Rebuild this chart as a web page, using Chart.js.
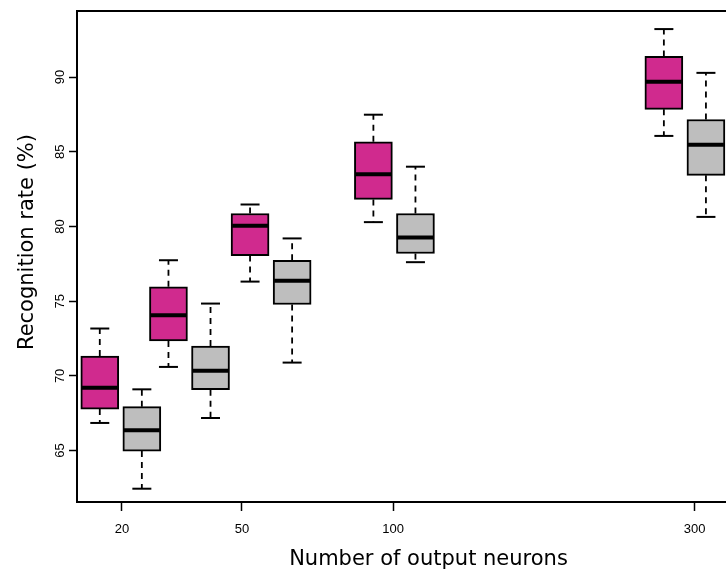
<!DOCTYPE html>
<html>
<head>
<meta charset="utf-8">
<script src="https://cdn.jsdelivr.net/npm/chart.js@4/dist/chart.umd.min.js"></script>
<style>
  html, body { margin: 0; padding: 0; background: #fff; overflow: hidden; }
  #wrap { width: 780px; height: 571px; }
</style>
</head>
<body>
<div id="wrap"><canvas id="boxChart" width="780" height="571"></canvas></div>
<script>
// --- data ---
// x positions of the five groups (axis units), ticks and their labels
const groupPos = [6.75, 17.33, 29.9, 48.9, 93.65];
const pairOffset = 3.24;
const tickPos = [6.93, 25.4, 48.7, 95.16];
const tickLabels = ['20', '50', '100', '300'];
const yTicks = [65, 70, 75, 80, 85, 90];

// magenta boxes
const pinkMin = [66.85, 70.60, 76.31, 80.29, 86.06];
const pinkQ1  = [67.78, 72.34, 78.05, 81.81, 87.84];
const pinkMed = [69.21, 74.06, 80.04, 83.50, 89.69];
const pinkQ3  = [71.33, 75.96, 80.87, 85.67, 91.38];
const pinkMax = [73.17, 77.74, 81.47, 87.48, 93.21];

// grey boxes
const greyMin = [62.45, 67.18, 70.89, 77.61, 80.64];
const greyQ1  = [64.97, 69.08, 74.78, 78.19, 83.42];
const greyMed = [66.36, 70.35, 76.36, 79.26, 85.47];
const greyQ3  = [67.94, 72.00, 77.74, 80.87, 87.16];
const greyMax = [69.10, 74.84, 79.20, 84.00, 90.28];

const series = [
    { color: '#D02A8E', shift: -pairOffset, min: pinkMin, q1: pinkQ1, med: pinkMed, q3: pinkQ3, max: pinkMax },
    { color: '#BEBEBE', shift: pairOffset, min: greyMin, q1: greyQ1, med: greyMed, q3: greyQ3, max: greyMax }
];

function line(ctx, x1, y1, x2, y2) {
    ctx.beginPath();
    ctx.moveTo(x1, y1);
    ctx.lineTo(x2, y2);
    ctx.stroke();
}

// whiskers, medians, frame and rotated y labels
const boxExtras = {
    id: 'boxExtras',
    beforeDatasetsDraw(chart) {
        const { ctx, scales: { y } } = chart;
        series.forEach((s, di) => {
            chart.getDatasetMeta(di).data.forEach((bar, i) => {
                const cx = bar.x;
                const cap = bar.width / 4;
                const yMax = y.getPixelForValue(s.max[i]);
                const yMin = y.getPixelForValue(s.min[i]);
                ctx.save();
                ctx.strokeStyle = '#000';
                ctx.lineWidth = 1.8;
                ctx.setLineDash([6, 5]);
                line(ctx, cx, y.getPixelForValue(s.q3[i]), cx, yMax);
                line(ctx, cx, y.getPixelForValue(s.q1[i]), cx, yMin);
                ctx.setLineDash([]);
                ctx.lineWidth = 2;
                line(ctx, cx - cap, yMax, cx + cap, yMax);
                line(ctx, cx - cap, yMin, cx + cap, yMin);
                ctx.restore();
            });
        });
    },
    afterDatasetsDraw(chart) {
        const { ctx, chartArea: a, scales: { y } } = chart;
        ctx.save();
        ctx.strokeStyle = '#000';
        series.forEach((s, di) => {
            chart.getDatasetMeta(di).data.forEach((bar, i) => {
                const ym = y.getPixelForValue(s.med[i]);
                ctx.lineWidth = 4;
                line(ctx, bar.x - bar.width / 2 + 1, ym, bar.x + bar.width / 2 - 1, ym);
            });
        });

        // frame (right side falls outside the window)
        ctx.lineWidth = 2;
        ctx.beginPath();
        ctx.moveTo(a.right, a.top);
        ctx.lineTo(a.left, a.top);
        ctx.lineTo(a.left, a.bottom);
        ctx.lineTo(a.right, a.bottom);
        ctx.stroke();

        // y tick labels, rotated like R
        ctx.fillStyle = '#000';
        ctx.font = '13px "Liberation Sans", Arial, sans-serif';
        ctx.textAlign = 'center';
        ctx.textBaseline = 'middle';
        yTicks.forEach(v => {
            ctx.save();
            ctx.translate(a.left - 17, y.getPixelForValue(v));
            ctx.rotate(-Math.PI / 2);
            ctx.fillText(String(v), 0, 0);
            ctx.restore();
        });

        // y axis title
        ctx.font = '21px "DejaVu Sans", sans-serif';
        ctx.textBaseline = 'alphabetic';
        ctx.translate(33, 242);
        ctx.rotate(-Math.PI / 2);
        ctx.fillText('Recognition rate (%)', 0, 0);
        ctx.restore();
    }
};

const ctx = document.getElementById('boxChart').getContext('2d');

new Chart(ctx, {
    type: 'bar',
    data: {
        datasets: series.map(s => ({
            data: groupPos.map((p, i) => ({ x: p + s.shift, y: [s.q1[i], s.q3[i]] })),
            backgroundColor: s.color,
            borderColor: '#000',
            borderWidth: 2,
            borderSkipped: false,
            barThickness: 38,
            grouped: false
        }))
    },
    options: {
        responsive: false,
        animation: false,
        devicePixelRatio: 1,
        layout: { padding: { top: 11, left: 0, right: 0, bottom: 0 } },
        plugins: {
            legend: { display: false },
            tooltip: { enabled: false }
        },
        scales: {
            x: {
                type: 'linear',
                min: 0,
                max: 108.3,
                offset: false,
                afterFit: s => { s.height = 69; },
                afterBuildTicks: s => { s.ticks = tickPos.map(v => ({ value: v })); },
                border: { display: false },
                grid: { offset: false, drawOnChartArea: false, drawTicks: true, tickLength: 9, tickColor: '#000', tickWidth: 1.5 },
                ticks: {
                    autoSkip: false,
                    maxRotation: 0,
                    padding: 11,
                    color: '#000',
                    font: { family: '"Liberation Sans", Arial, sans-serif', size: 13 },
                    callback: (val, idx) => tickLabels[idx]
                },
                title: {
                    display: true,
                    text: 'Number of output neurons',
                    color: '#000',
                    font: { family: '"DejaVu Sans", sans-serif', size: 21 },
                    padding: { top: 0, bottom: -1 }
                }
            },
            y: {
                type: 'linear',
                min: 61.56,
                max: 94.42,
                afterFit: s => { s.width = 77; },
                afterBuildTicks: s => { s.ticks = yTicks.map(v => ({ value: v })); },
                border: { display: false },
                grid: { drawOnChartArea: false, drawTicks: true, tickLength: 8, tickColor: '#000', tickWidth: 1.5 },
                ticks: { display: false }
            }
        }
    },
    plugins: [boxExtras]
});
</script>
</body>
</html>
